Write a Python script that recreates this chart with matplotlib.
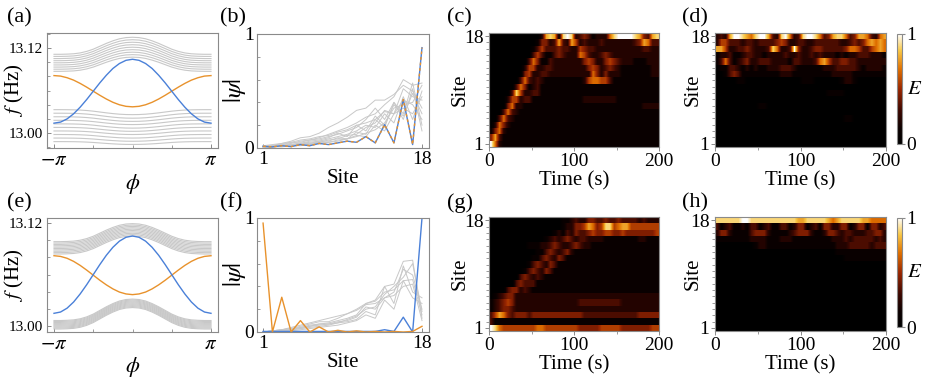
import numpy as np
import matplotlib
matplotlib.use("Agg")
import matplotlib.pyplot as plt
from matplotlib.colors import LinearSegmentedColormap
from matplotlib.cm import ScalarMappable
from matplotlib.colors import Normalize
from matplotlib.ticker import FixedLocator, MultipleLocator

plt.rcParams['font.family'] = ['Liberation Serif', 'DejaVu Serif']
plt.rcParams['mathtext.fontset'] = 'stix'

W, H = 926, 378
BLUE = "#4a80d8"
ORANGE = "#e8922c"
GRAY = "#c8c8c8"
FRAME = "#8a8a8a"

# ---------------- band structure panels (a), (e) ----------------
# samples at phi = 0, pi/12, ..., pi (curves are symmetric in phi)
phi_half = np.pi * np.arange(13) / 12
bump_half = [1.0, 0.98, 0.91, 0.79, 0.64, 0.47, 0.30, 0.17, 0.08, 0.03, 0.01, 0.0, 0.0]

blue_a = [13.104, 13.1025, 13.098, 13.091, 13.0815, 13.0707, 13.059,
          13.0473, 13.0365, 13.0272, 13.020, 13.0155, 13.014]
orange_a = [13.037, 13.0377, 13.0399, 13.0434, 13.048, 13.0533, 13.059,
            13.0647, 13.070, 13.0746, 13.078, 13.0803, 13.081]
upper_edge_a = [13.087, 13.090, 13.093, 13.096, 13.099, 13.102, 13.105, 13.108, 13.111]
upper_amp_a = [0.020, 0.0205, 0.021, 0.0215, 0.022, 0.0225, 0.023, 0.0235, 0.024]
lower_edge_a = [12.988, 12.993, 12.998, 13.003, 13.008, 13.013, 13.018, 13.023, 13.028, 13.033]
lower_amp_a = [-0.004, -0.0045, -0.005, -0.005, -0.0055, -0.006, -0.006, -0.0065, -0.007, -0.007]

blue_e = [13.105, 13.1035, 13.0990, 13.0918, 13.0825, 13.0716, 13.0599,
          13.0482, 13.0374, 13.0280, 13.0208, 13.0163, 13.0148]
orange_e = [13.0366, 13.0374, 13.0396, 13.0433, 13.0480, 13.0534, 13.0593,
            13.0652, 13.0707, 13.0754, 13.0790, 13.0812, 13.0820]
upper_edge_e = [13.0840, 13.0856, 13.0872, 13.0888, 13.0904, 13.0920, 13.0936, 13.0952, 13.0968, 13.0984]
upper_amp_e = [0.021] * 10
lower_edge_e = [12.9965, 12.9976, 12.9987, 12.9998, 13.0009, 13.0020, 13.0031, 13.0042, 13.0053, 13.0064]
lower_amp_e = [0.025] * 10

# ---------------- wavefunction panels (b), (f) ----------------
sites = np.arange(1, 19)
edge_b = [0.015, 0.01, 0.02, 0.012, 0.03, 0.02, 0.04, 0.03, 0.045, 0.06,
          0.05, 0.10, 0.045, 0.205, 0.045, 0.425, 0.03, 0.88]
bulk_b = [
    [0.01, 0.02, 0.04, 0.06, 0.09, 0.10, 0.13, 0.18, 0.22, 0.27, 0.33, 0.35, 0.42, 0.42, 0.47, 0.55, 0.50, 0.35],
    [0.01, 0.02, 0.03, 0.04, 0.06, 0.07, 0.09, 0.12, 0.15, 0.18, 0.22, 0.27, 0.30, 0.38, 0.45, 0.60, 0.55, 0.57],
    [0.02, 0.02, 0.03, 0.05, 0.05, 0.07, 0.08, 0.10, 0.12, 0.15, 0.18, 0.25, 0.35, 0.25, 0.40, 0.30, 0.57, 0.20],
    [0.01, 0.01, 0.02, 0.03, 0.04, 0.05, 0.06, 0.08, 0.10, 0.12, 0.15, 0.20, 0.18, 0.30, 0.22, 0.45, 0.25, 0.50],
    [0.01, 0.02, 0.02, 0.03, 0.04, 0.06, 0.07, 0.09, 0.13, 0.10, 0.20, 0.15, 0.28, 0.20, 0.38, 0.28, 0.48, 0.30],
    [0.00, 0.01, 0.02, 0.02, 0.03, 0.04, 0.05, 0.07, 0.08, 0.11, 0.12, 0.18, 0.22, 0.33, 0.30, 0.52, 0.45, 0.42],
    [0.01, 0.01, 0.02, 0.02, 0.03, 0.03, 0.05, 0.05, 0.07, 0.08, 0.10, 0.13, 0.16, 0.22, 0.35, 0.38, 0.40, 0.55],
    [0.01, 0.01, 0.01, 0.02, 0.02, 0.03, 0.04, 0.05, 0.06, 0.08, 0.11, 0.10, 0.20, 0.15, 0.30, 0.35, 0.30, 0.45],
    [0.02, 0.03, 0.04, 0.05, 0.07, 0.08, 0.10, 0.11, 0.14, 0.16, 0.20, 0.22, 0.25, 0.32, 0.30, 0.42, 0.38, 0.25],
    [0.01, 0.01, 0.02, 0.03, 0.04, 0.04, 0.06, 0.06, 0.09, 0.08, 0.14, 0.12, 0.25, 0.18, 0.40, 0.25, 0.52, 0.15],
]
blue_f = [0.005, 0.005, 0.005, 0.005, 0.005, 0.005, 0.005, 0.005, 0.005, 0.005,
          0.005, 0.005, 0.005, 0.02, 0.005, 0.13, 0.0, 1.0]
orange_f = [0.955, 0.0, 0.305, 0.0, 0.10, 0.0, 0.045, 0.0, 0.015, 0.0,
            0.01, 0.0, 0.005, 0.0, 0.005, 0.0, 0.005, 0.05]
bulk_f = [
    [0.0, 0.01, 0.02, 0.03, 0.05, 0.07, 0.09, 0.09, 0.12, 0.16, 0.20, 0.25, 0.27, 0.35, 0.37, 0.45, 0.46, 0.15],
    [0.0, 0.01, 0.02, 0.03, 0.04, 0.06, 0.07, 0.08, 0.10, 0.12, 0.15, 0.25, 0.28, 0.40, 0.42, 0.62, 0.63, 0.12],
    [0.0, 0.0, 0.01, 0.02, 0.04, 0.05, 0.07, 0.07, 0.09, 0.10, 0.13, 0.22, 0.20, 0.30, 0.35, 0.55, 0.50, 0.20],
    [0.0, 0.0, 0.01, 0.02, 0.03, 0.04, 0.05, 0.06, 0.08, 0.09, 0.11, 0.18, 0.15, 0.40, 0.25, 0.58, 0.35, 0.30],
    [0.0, 0.01, 0.01, 0.02, 0.03, 0.05, 0.06, 0.07, 0.08, 0.11, 0.14, 0.20, 0.22, 0.33, 0.40, 0.48, 0.60, 0.18],
    [0.0, 0.0, 0.01, 0.01, 0.02, 0.03, 0.04, 0.05, 0.06, 0.08, 0.10, 0.15, 0.12, 0.28, 0.20, 0.45, 0.30, 0.25],
    [0.0, 0.01, 0.02, 0.04, 0.06, 0.08, 0.10, 0.12, 0.14, 0.16, 0.19, 0.24, 0.25, 0.30, 0.32, 0.40, 0.42, 0.10],
]

# ---------------- energy maps (c), (d), (g), (h) ----------------
# one string per site (18 at top, 1 at bottom), one digit per 5 s bin, 0..9 -> E = d/9
map_c = [
    "0000000000002787189823431222689999874378",
    "0000000000014423732752322232222222347633",
    "0000000000135333433225433222222222223322",
    "0000000000353113432226532234322222222222",
    "0000000003641132222222454224543222111222",
    "0000000025522332222222245423432111111122",
    "0000000045223322222222226424222111111122",
    "0000000363232111111111256655311111111111",
    "000000364123" + "1" * 28,
    "000003852233" + "1" * 28,
    "0000255233111111111111222222221111111111",
    "00004622" + "1" * 28 + "2222",
    "0003632" + "1" * 33,
    "003632" + "1" * 34,
    "02642" + "1" * 35,
    "1462" + "1" * 36,
    "473" + "1" * 37,
    "962" + "1" * 37,
]
map_d = [
    "2327998768997328962389986347886347763267",
    "2553332332333345422332233333322343467676",
    "7752233432223862239422344333334665335676",
    "1223112332212222322322323222121223332221",
    "1363123422333222213322236753344332222222",
    "0113321212112223332111111222333332122221",
    "0013431111111112221111111112222211111111",
    "0" * 5 + "11" + "0" * 13 + "111" + "0" * 6 + "1221" + "0" * 7,
    "0" * 40,
    "0" * 26 + "1111" + "0" * 10,
    "0" * 40,
    "0" * 10 + "11" + "0" * 28,
    "0" * 40,
    "0" * 30 + "11" + "0" * 8,
    "0" * 40,
    "0" * 40,
    "0" * 40,
    "0" * 40,
]
map_g = [
    "0000000000000000011232244334334333323222",
    "0000000000000000012244576458856775555555",
    "0000000000000001213243345445544544444445",
    "0000000000000123234323322221111111122111",
    "0000000001112234322343221111111111111111",
    "00000000000113432342" + "1" * 20,
    "00000000001134324311" + "1" * 20,
    "00000000013432431111" + "1" * 20,
    "00000000134324311111" + "1" * 20,
    "00000003432321111111" + "1" * 20,
    "00000034333111111111" + "1" * 20,
    "0000344232" + "1" * 30,
    "0123442222" + "2" * 30,
    "1234542222222222222223333333333222222222",
    "1234432222" + "2" * 30,
    "3576434443444444444444333333333333344444",
    "3" + "1" * 39,
    "9865555555566555555554444455555444444455",
]
map_h = [
    "8888889988888888888778888876788888776666",
    "3123112133123113312441231442244124414423",
    "2442111134442111123444211244323322233442",
    "1111111122221112221111111112223233333232",
    "0000000001221111111111111111222333332333",
    "0" * 28 + "1" * 12,
    "0" * 30 + "1" * 10,
] + ["0" * 40] * 11

panel_letters = ["(a)", "(b)", "(c)", "(d)", "(e)", "(f)", "(g)", "(h)"]

cmap = LinearSegmentedColormap.from_list(
    "sunset", [(0.0, "#000000"), (0.14, "#0c0100"), (0.3, "#3c0700"),
               (0.5, "#9a2600"), (0.68, "#e07000"), (0.85, "#f9c846"),
               (1.0, "#ffffff")])

fig = plt.figure(figsize=(W / 100, H / 100), dpi=100)


def add_ax(x0, y0, x1, y1):
    return fig.add_axes([x0 / W, 1 - y1 / H, (x1 - x0) / W, (y1 - y0) / H])


def frame(ax, direction="in"):
    for s in ax.spines.values():
        s.set_color(FRAME)
        s.set_linewidth(0.8)
    ax.tick_params(which="both", direction=direction, color=FRAME, labelcolor="black")
    ax.tick_params(which="major", length=3, width=0.7)
    ax.tick_params(which="minor", length=2, width=0.6)


def mirror(half):
    half = np.asarray(half)
    return np.concatenate([half[:0:-1], half])


def band_panel(ax, up_e, up_a, lo_e, lo_a, blue, orange, ylim):
    phi = np.concatenate([-phi_half[:0:-1], phi_half])
    bump = mirror(bump_half)
    for e, a in zip(up_e, up_a):
        ax.plot(phi, e + a * bump, color=GRAY, lw=0.8)
    for e, a in zip(lo_e, lo_a):
        ax.plot(phi, e + a * bump, color=GRAY, lw=0.8)
    ax.plot(phi, mirror(orange), color=ORANGE, lw=1.0)
    ax.plot(phi, mirror(blue), color=BLUE, lw=1.0)
    ax.set_xlim(-np.pi - 0.28, np.pi + 0.28)
    ax.set_ylim(*ylim)
    ax.set_xticks([-np.pi, np.pi])
    ax.set_xticklabels([r"$-\pi$", r"$\pi$"], fontsize=15)
    ax.xaxis.set_minor_locator(FixedLocator([-np.pi / 2, 0, np.pi / 2]))
    ax.set_yticks([13.00, 13.12])
    ax.set_yticklabels(["13.00", "13.12"], fontsize=11)
    ax.yaxis.set_minor_locator(MultipleLocator(0.02))
    frame(ax)
    ax.tick_params(axis="x", pad=2)
    ax.tick_params(axis="y", pad=3)
    ax.set_xlabel(r"$\phi$", fontsize=16, va="center")
    ax.xaxis.set_label_coords(0.5, -0.31)
    ax.set_ylabel(r"$f$ (Hz)", fontsize=15, va="center")
    ax.yaxis.set_label_coords(-0.19, 0.5)


def psi_panel(ax, bulk, blue, orange, dashed):
    for g in bulk:
        ax.plot(sites, g, color=GRAY, lw=0.7)
    ax.plot(sites, blue, color=BLUE, lw=1.0)
    if dashed:
        ax.plot(sites, orange, color=ORANGE, lw=1.0, dashes=(2, 2))
    else:
        ax.plot(sites, orange, color=ORANGE, lw=1.0)
    ax.set_xlim(0.35, 18.75)
    ax.set_ylim(0, 1)
    ax.set_xticks([1, 18])
    ax.set_yticks([0, 1])
    ax.yaxis.set_minor_locator(MultipleLocator(0.2))
    frame(ax)
    ax.tick_params(labelsize=14, pad=2)
    ax.set_xlabel("Site", fontsize=15, va="center")
    ax.xaxis.set_label_coords(0.5, -0.265)
    ax.set_ylabel(r"$|\psi|$", fontsize=18, va="center")
    ax.yaxis.set_label_coords(-0.13, 0.5)


def map_panel(ax, rows):
    grid = np.array([[int(ch) for ch in r] for r in rows[::-1]]) / 9.0
    for i in range(grid.shape[0]):
        ax.imshow(grid[i:i + 1], extent=(0, 200, i + 0.5, i + 1.5), aspect="auto",
                  interpolation="bilinear", cmap=cmap, vmin=0, vmax=1, origin="lower")
    ax.set_xlim(0, 200)
    ax.set_ylim(0.5, 18.5)
    ax.set_xticks([0, 100, 200])
    ax.xaxis.set_minor_locator(FixedLocator([50, 150]))
    ax.set_yticks([1, 18])
    ax.yaxis.set_minor_locator(FixedLocator(np.arange(2, 18)))
    frame(ax, direction="out")
    ax.tick_params(labelsize=14, pad=1)
    ax.set_xlabel("Time (s)", fontsize=15, va="center")
    ax.xaxis.set_label_coords(0.5, -0.30)
    ax.set_ylabel("Site", fontsize=15, va="center")


def colorbar(x0, y0, x1, y1):
    cax = add_ax(x0, y0, x1, y1)
    sm = ScalarMappable(norm=Normalize(0, 1), cmap=cmap)
    cb = fig.colorbar(sm, cax=cax, ticks=[0, 1])
    cb.ax.set_yticklabels(["0", "1"])
    cb.outline.set_edgecolor(FRAME)
    cb.outline.set_linewidth(0.8)
    cax.tick_params(labelsize=14, length=2, color=FRAME, pad=1)
    cax.text(3.6, 0.5, r"$E$", fontsize=15, transform=cax.transAxes, va="center", ha="center")


ax_a = add_ax(47, 33, 218, 148)
band_panel(ax_a, upper_edge_a, upper_amp_a, lower_edge_a, lower_amp_a, blue_a, orange_a, (12.979, 13.141))
ax_e = add_ax(47, 218, 218, 332)
band_panel(ax_e, upper_edge_e, upper_amp_e, lower_edge_e, lower_amp_e, blue_e, orange_e, (12.993, 13.126))

ax_b = add_ax(257, 34, 429, 148)
psi_panel(ax_b, bulk_b, edge_b, edge_b, dashed=True)
ax_f = add_ax(257, 218, 429, 332)
psi_panel(ax_f, bulk_f, blue_f, orange_f, dashed=False)

ax_c = add_ax(489, 33, 659, 147)
map_panel(ax_c, map_c)
ax_c.yaxis.set_label_coords(-0.167, 0.5)
ax_d = add_ax(715, 33, 886, 147)
map_panel(ax_d, map_d)
ax_d.yaxis.set_label_coords(-0.13, 0.5)
ax_g = add_ax(489, 217, 659, 331)
map_panel(ax_g, map_g)
ax_g.yaxis.set_label_coords(-0.167, 0.5)
ax_h = add_ax(715, 217, 886, 331)
map_panel(ax_h, map_h)
ax_h.yaxis.set_label_coords(-0.13, 0.5)

colorbar(897, 34, 902, 144)
colorbar(897, 218, 902, 327)

letter_pos = [(7, 18), (220, 18), (447, 18), (682, 18),
              (7, 203), (220, 203), (447, 203), (682, 203)]
for (x, y), lab in zip(letter_pos, panel_letters):
    fig.text(x / W, 1 - y / H, lab, fontsize=16, ha="left", va="center")

fig.savefig("out.png", dpi=100)
